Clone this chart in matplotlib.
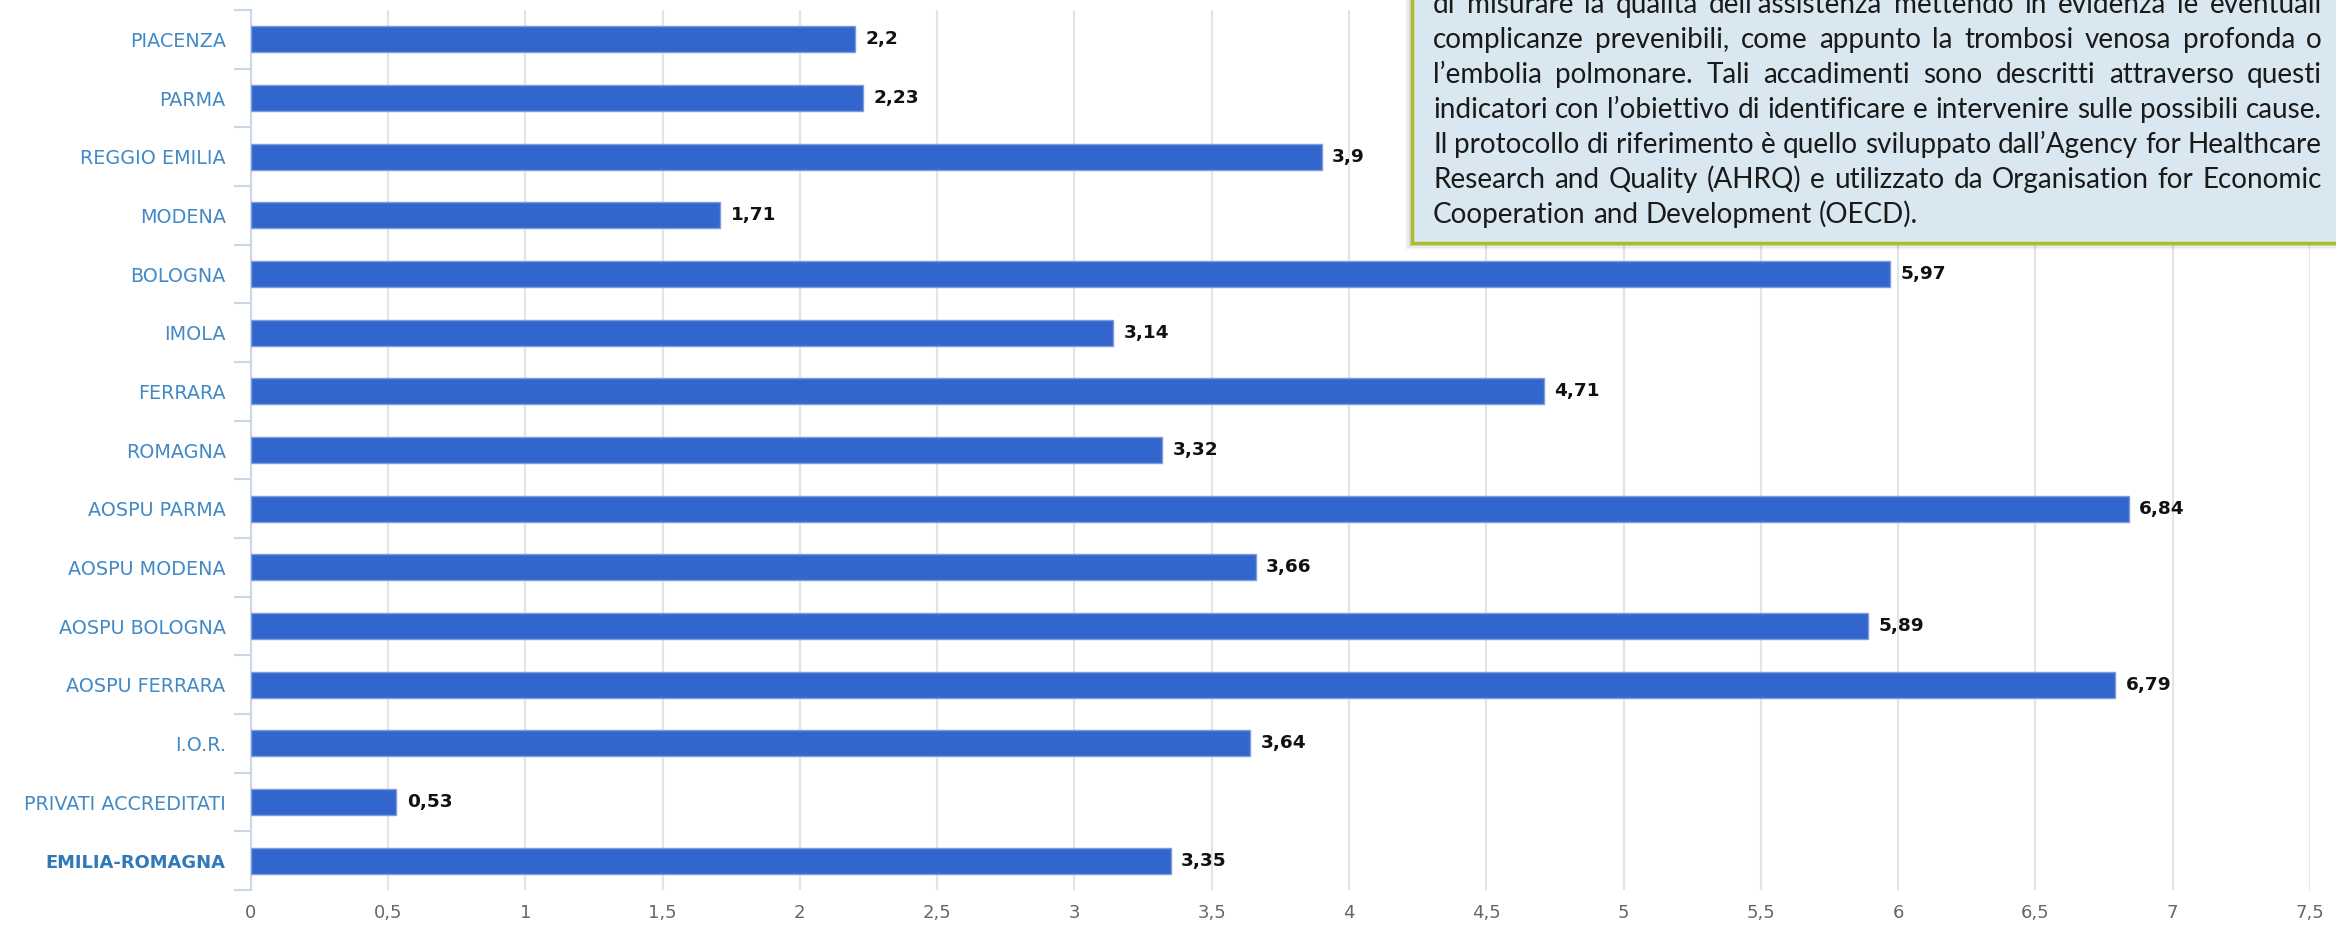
import matplotlib
matplotlib.use("Agg")
import matplotlib.pyplot as plt
from matplotlib.patches import Rectangle

# ---- data ----
categories = ["PIACENZA", "PARMA", "REGGIO EMILIA", "MODENA", "BOLOGNA", "IMOLA",
              "FERRARA", "ROMAGNA", "AOSPU PARMA", "AOSPU MODENA", "AOSPU BOLOGNA",
              "AOSPU FERRARA", "I.O.R.", "PRIVATI ACCREDITATI", "EMILIA-ROMAGNA"]
values = [2.2, 2.23, 3.9, 1.71, 5.97, 3.14, 4.71, 3.32, 6.84, 3.66, 5.89, 6.79, 3.64, 0.53, 3.35]
x_ticks = [0, 0.5, 1, 1.5, 2, 2.5, 3, 3.5, 4, 4.5, 5, 5.5, 6, 6.5, 7, 7.5]
box_lines = [
    "di misurare la qualità dell’assistenza mettendo in evidenza le eventuali",
    "complicanze prevenibili, come appunto la trombosi venosa profonda o",
    "l’embolia polmonare. Tali accadimenti sono descritti attraverso questi",
    "indicatori con l’obiettivo di identificare e intervenire sulle possibili cause.",
    "Il protocollo di riferimento è quello sviluppato dall’Agency for Healthcare",
    "Research and Quality (AHRQ) e utilizzato da Organisation for Economic",
    "Cooperation and Development (OECD).",
]

def fmt(v):
    return ("%g" % v).replace(".", ",")

W, H = 2336, 926
DPI = 100
fig = plt.figure(figsize=(W / DPI, H / DPI), dpi=DPI)
fig.patch.set_facecolor("white")

x0, x1 = 250.7, 2310
y_top, y_bot = 10, 890
ax = fig.add_axes([x0 / W, 1 - y_bot / H, (x1 - x0) / W, (y_bot - y_top) / H])

ypos = list(range(len(categories)))
ax.barh(ypos, values, height=0.44, color="#3366cc", edgecolor="#7d9be0",
        linewidth=1.0, zorder=3)
for i, v in enumerate(values):
    ax.annotate(fmt(v), xy=(v, i), xytext=(7.5, 0), textcoords="offset points",
                ha="left", va="center", fontsize=13.3, fontweight="bold",
                color="#111111", family="DejaVu Sans", zorder=4)

ax.set_xlim(0, 7.5)
ax.set_ylim(len(categories) - 0.5, -0.5)

ax.set_xticks(x_ticks)
ax.set_xticklabels([fmt(t) for t in x_ticks], fontsize=13, color="#666666")
ax.tick_params(axis="x", length=0, pad=10)
ax.grid(axis="x", color="#e4e4e4", linewidth=1.6, zorder=0)
ax.set_axisbelow(True)

ax.set_yticks(ypos)
ax.set_yticklabels(categories, fontsize=13.8, color="#4289c6")
ax.tick_params(axis="y", which="major", length=0, pad=18)
ax.set_yticks([i - 0.5 for i in range(len(categories) + 1)], minor=True)
ax.tick_params(axis="y", which="minor", length=12, width=1.5, color="#ccd6eb")
for lbl in ax.get_yticklabels():
    if lbl.get_text() == "EMILIA-ROMAGNA":
        lbl.set_fontweight("bold")
        lbl.set_fontsize(12.9)
        lbl.set_color("#2f79b8")

for s in ["top", "right", "bottom"]:
    ax.spines[s].set_visible(False)
ax.spines["left"].set_color("#ccd6eb")
ax.spines["left"].set_linewidth(1.5)

# ---- annotation box (top right) ----
bx0, bx1 = 1412, 2350
by_top, by_bot = -20, 243
def fx(px):
    return px / W
def fy(py):
    return 1 - py / H

for k, a in [(7, 0.03), (5, 0.05), (3, 0.07)]:
    fig.add_artist(Rectangle((fx(bx0 - k), fy(by_bot + k)), (bx1 - bx0 + 2 * k) / W,
                             (by_bot - by_top + 2 * k) / H, transform=fig.transFigure,
                             facecolor="black", edgecolor="none", alpha=a, zorder=5))
fig.add_artist(Rectangle((fx(bx0), fy(by_bot)), (bx1 - bx0) / W, (by_bot - by_top) / H,
                         transform=fig.transFigure, facecolor="#d9e7f0",
                         edgecolor="#a6bd2c", linewidth=2.5, zorder=6))

fig.canvas.draw()
renderer = fig.canvas.get_renderer()
fam = ["Lato", "DejaVu Sans"]

def text_w(s, size):
    t = fig.text(0, 0, s, fontsize=size, family=fam)
    w = t.get_window_extent(renderer).width
    t.remove()
    return w

tx0, tx1 = 1433, 2322
avail = tx1 - tx0
ref_size = 16
nat = text_w(box_lines[3], ref_size)
size = ref_size * avail / nat
space_w = text_w("a a", size) - text_w("aa", size)

baselines = [13 + 35 * i for i in range(len(box_lines))]
for li, (line, b) in enumerate(zip(box_lines, baselines)):
    words = line.split(" ")
    widths = [text_w(w_, size) for w_ in words]
    if li < len(box_lines) - 1 and len(words) > 1:
        gap = (avail - sum(widths)) / (len(words) - 1)
    else:
        gap = space_w
    x = tx0
    for w_, wd in zip(words, widths):
        fig.text(fx(x), fy(b), w_, fontsize=size, family=fam, color="#1a1a1a",
                 ha="left", va="baseline", zorder=7)
        x += wd + gap

fig.savefig("out.png", dpi=DPI, facecolor="white")
